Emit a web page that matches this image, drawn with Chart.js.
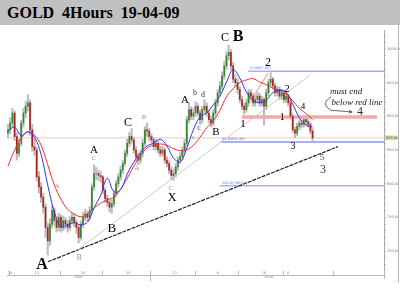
<!DOCTYPE html>
<html lang="en">
<head>
<meta charset="UTF-8">
<title>GOLD 4Hours 19-04-09</title>
<script src="https://cdn.jsdelivr.net/npm/chart.js"></script>
<style>
    body { margin: 0; background: #fff; }
    #title {
        width: 400px; height: 25px; background: #c0c0c0; box-sizing: border-box;
        padding-left: 7px; font: bold 16px "Liberation Serif", serif; line-height: 25px;
        white-space: pre; color: #000;
    }
    #wrap { width: 400px; height: 275px; }
</style>
</head>
<body>
<div id="title">GOLD  4Hours  19-04-09</div>
<div id="wrap"><canvas id="goldChart" width="400" height="275"></canvas></div>

<script>
// daily bars, Oct 2008 - 17 Apr 2009 (bar index = x)
const opens = [875,880,890,905,870,845,860,890,905,915, 920,880,855,850,810,795,780,765,735,715,
    740,760,745,735,750,735,745,740,735,745, 750,742,735,720,740,750,755,750,760,795,
    815,815,812,810,790,778,772,765,770,785, 800,810,820,830,845,860,870,865,850,840,
    835,845,860,880,878,870,865,855,860,850, 845,850,835,830,820,812,815,825,835,840,
    850,860,895,910,900,905,915,905,895,910, 915,905,895,890,905,920,935,945,960,975,
    990,995,975,955,950,940,925,915,910,920, 935,930,920,925,930,920,925,915,935,950,
    955,945,935,940,930,935,925,930,920,900, 880,875,885,890,888,895,892,888,878];
const highs = [888,898,912,908,876,866,894,912,922,932, 924,888,866,854,818,802,786,770,742,748,
    768,764,752,756,754,752,750,746,751,756, 754,746,739,745,757,762,759,766,800,828,
    824,820,818,812,794,783,776,776,790,805, 815,826,835,850,866,876,882,868,855,845,
    850,866,885,890,882,874,868,866,864,855, 856,853,840,834,825,822,830,840,846,855,
    866,900,920,914,912,922,919,910,915,925, 920,909,900,910,925,940,952,966,982,996,
    1006,999,980,962,956,944,930,920,926,940, 940,934,931,936,934,930,928,940,955,965,
    958,949,945,944,940,938,935,933,924,904, 884,890,895,894,900,898,896,891,882];
const lows = [868,874,884,864,835,840,856,884,898,908, 872,848,842,804,786,772,756,720,694,708,
    734,738,728,730,728,730,733,728,731,740, 736,726,712,716,735,745,744,746,756,790,
    806,805,802,785,772,766,758,756,766,780, 795,805,815,826,840,855,860,845,834,828,
    830,840,856,870,864,860,850,850,845,840, 841,830,825,815,806,805,810,820,830,835,
    845,856,890,895,895,900,900,888,890,905, 900,890,884,886,900,915,930,940,955,970,
    984,968,950,944,934,920,910,903,906,915, 925,915,915,920,915,915,887,910,930,945,
    940,930,930,925,925,920,920,915,896,876, 868,871,880,883,884,887,884,874,864];
const closes = [880,890,905,870,845,860,890,905,915,920, 880,855,850,810,795,780,765,735,715,740,
    760,745,735,750,735,745,740,735,745,750, 742,735,720,740,750,755,750,760,795,815,
    815,812,810,790,778,772,765,770,785,800, 810,820,830,845,860,870,865,850,840,835,
    845,860,880,878,870,865,855,860,850,845, 850,835,830,820,812,815,825,835,840,850,
    860,895,910,900,905,915,905,895,910,915, 905,895,890,905,920,935,945,960,975,990,
    995,975,955,950,940,925,915,910,920,935, 930,920,925,930,920,925,915,935,950,955,
    945,935,940,930,935,925,930,920,900,880, 875,885,890,888,895,892,888,878,868];

// moving averages, one reading every 3 bars
const maBars = [0,3,6,9,12,15,18,21,24,27,30,33,36,39,42,45,48,51,54,57,60,63,66,69,72,75,78,81,84,87,90,93,96,99,102,105,108,111,114,117,120,123,126,129,132,135,138];
const maBlue = [878,884,871,877,869,843,798,758,736,739,742,739,743,764,783,808,788,791,814,832,846,856,860,866,856,838,832,853,880,899,905,917,930,951,969,957,936,924,920,924,935,939,936,918,898,887,884];
const maRed = [826,850,868,877,872,857,828,798,777,762,755,751,755,764,771,776,780,792,808,826,841,853,857,859,857,852,849,850,857,869,883,893,909,929,941,950,954,956,951,947,942,939,933,923,912,904,895];

// horizontal levels [price, from bar]
const lastPrice = 868;
const redLevel = [899, 106, 167.2];
const fibLevels = [[967, 108.8], [862, 96.1], [797, 96.1]];
const fibTexts = ['0.0(967.60)', '61.8(861.90)', '100.0(796.60)'];
// trend lines [bar, price]
const blackTrend = [[18.1, 684], [149.5, 855]];
const greyTrend = [[31.7, 702], [136.8, 961]];
const waveLine = [[106.5, 905], [117.8, 964]];

// axis labels
const yTickValues = [700, 750, 800, 850, 900, 950, 1000];
const monthBars = [0.45, 23.6, 42.6, 64.3, 84.7, 104.2, 124.6, 147.3];
const dayLabels = ['29', '13', '10', '15', '12', '9', '16', '6'];
const dayBars = [1, 13, 34, 54.5, 75.5, 95, 116, 127];
const yearLabels = ['2008', '2009'];
const yearBars = [31.7, 118];

const xMin = -0.45, xMax = 170.35;
const N = closes.length;

const wicks = [], bodies = [], bodyColors = [];
for (let i = 0; i < N; i++) {
    wicks.push({ x: i, y: [lows[i], highs[i]] });
    bodies.push({ x: i, y: [opens[i], closes[i]] });
    bodyColors.push(closes[i] >= opens[i] ? '#2f8a2f' : '#b02020');
}

function pts(list) {
    return list.map(p => ({ x: p[0], y: p[1] }));
}
function hLine(price, from, to) {
    return [{ x: from, y: price }, { x: to || xMax, y: price }];
}
function lineSet(data, color, width, order, dash) {
    return {
        type: 'line', data: data, borderColor: color, borderWidth: width,
        pointRadius: 0, tension: 0, order: order, borderDash: dash || [],
        borderCapStyle: 'butt'
    };
}

const notes = [
    ['A', 15.4, 679, 'bold 16px', '#000'],
    ['B', 32.2, 690, '8px', '#999'],
    ['B', 47.1, 734, '13px', '#000'],
    ['A', 39.0, 850, '11px', '#000'],
    ['C', 39.0, 838, '7px', '#999'],
    ['A', 22.2, 797, '7px', '#999'],
    ['C', 54.4, 890, '12px', '#000'],
    ['A', 58.4, 823, '7px', '#999'],
    ['B', 61.6, 899, '7px', '#999'],
    ['C', 73.9, 794, '7px', '#999'],
    ['X', 74.3, 779, '12px', '#000'],
    ['A', 80.2, 924, '11px', '#000'],
    ['b', 84.7, 935, '8px', '#333'],
    ['d', 88.4, 932, '8px', '#333'],
    ['c', 86.5, 883, '8px', '#333'],
    ['a', 83.8, 869, '7px', '#999'],
    ['B', 94.2, 877, '11px', '#000'],
    ['C', 98.3, 1016, '12px', '#000'],
    ['B', 104.2, 1018, 'bold 16px', '#000'],
    ['1', 106.5, 889, '11px', '#000'],
    ['2', 117.8, 979, '12px', '#000'],
    ['1', 124.2, 899, '10px', '#000'],
    ['2', 126.4, 941, '11px', '#000'],
    ['4', 133.7, 915, '9px', '#000'],
    ['3', 129.1, 855, '10px', '#000'],
    ['must end', 153.2, 936, 'italic 9px', '#222'],
    ['below red line', 158.1, 920, 'italic 9px', '#222'],
    ['4', 159.5, 906, '12px', '#333'],
    ['5', 142.3, 838, '9px', '#333'],
    ['3', 142.7, 820, '12px', '#333']
];

const decor = {
    id: 'decor',
    afterDatasetsDraw(chart) {
        const ctx = chart.ctx, x = chart.scales.x, y = chart.scales.y, a = chart.chartArea;
        const px = v => x.getPixelForValue(v), py = v => y.getPixelForValue(v);
        ctx.save();
        ctx.textAlign = 'center';
        ctx.textBaseline = 'middle';
        notes.forEach(n => {
            ctx.font = n[3] + ' "Liberation Serif", serif';
            ctx.fillStyle = n[4];
            ctx.fillText(n[0], px(n[1]), py(n[2]));
        });
        // tiny level captions
        ctx.font = '3.5px "DejaVu Sans"';
        ctx.fillStyle = '#7070e0';
        ctx.textAlign = 'left';
        fibLevels.forEach((l, i) => ctx.fillText(fibTexts[i], px(l[1]) + 2, py(l[0]) - 3));
        // curved arrow to "4"
        ctx.strokeStyle = '#444';
        ctx.lineWidth = 0.8;
        ctx.beginPath();
        ctx.moveTo(px(146.4), py(929));
        ctx.quadraticCurveTo(px(141), py(918), px(146.4), py(909));
        ctx.lineTo(px(155.9), py(906.5));
        ctx.stroke();
        ctx.beginPath();
        ctx.moveTo(px(154.5), py(909));
        ctx.lineTo(px(155.9), py(906.5));
        ctx.lineTo(px(154.3), py(904.5));
        ctx.stroke();
        // bottom axis box
        ctx.strokeStyle = '#b8b8b8';
        ctx.lineWidth = 1;
        ctx.beginPath();
        ctx.moveTo(a.left, a.bottom + 4.5); ctx.lineTo(a.right, a.bottom + 4.5);
        ctx.moveTo(a.right + 0.5, a.bottom); ctx.lineTo(a.right + 0.5, a.bottom + 8);
        ctx.moveTo(398.5, 0); ctx.lineTo(398.5, a.bottom + 12);
        monthBars.forEach((m, i) => {
            const xx = Math.round(px(m)) + 0.5;
            ctx.moveTo(xx, a.bottom); ctx.lineTo(xx, a.bottom + (i === 3 ? 10 : 4.5));
        });
        ctx.stroke();
        ctx.font = '3.5px "DejaVu Sans"';
        ctx.fillStyle = '#888';
        ctx.textAlign = 'center';
        dayLabels.forEach((d, i) => ctx.fillText(d, px(dayBars[i]), a.bottom + 2.2));
        yearLabels.forEach((d, i) => ctx.fillText(d, px(yearBars[i]), a.bottom + 6.5));
        // last price box
        const ly = py(lastPrice);
        ctx.fillStyle = '#dcdcb4';
        ctx.fillRect(a.right + 1, ly - 2.5, 12, 5);
        ctx.fillStyle = '#555';
        ctx.textAlign = 'left';
        ctx.fillText(lastPrice.toFixed(2), a.right + 2, ly);
        ctx.restore();
    }
};

new Chart(document.getElementById('goldChart'), {
    type: 'bar',
    data: {
        datasets: [
            lineSet(hLine(lastPrice, xMin), '#f8c4c4', 1, 9),
            lineSet(hLine(redLevel[0], redLevel[1], redLevel[2]), '#f6a8a8', 3.5, 8),
            lineSet(hLine(fibLevels[0][0], fibLevels[0][1]), '#a8b0f4', 1.5, 8),
            lineSet(hLine(fibLevels[1][0], fibLevels[1][1]), '#a8b0f4', 2, 8),
            lineSet(hLine(fibLevels[2][0], fibLevels[2][1]), '#a8b0f4', 1.5, 8),
            lineSet(pts(greyTrend), '#cccccc', 1, 7),
            lineSet(pts(blackTrend), '#222222', 1.2, 7, [4, 1]),
            lineSet(pts(waveLine), '#f07070', 0.8, 7),
            {
                type: 'bar', data: wicks, backgroundColor: '#bdbdbd', barThickness: 1.5,
                grouped: false, borderWidth: 0, order: 5
            },
            {
                type: 'bar', data: bodies, backgroundColor: bodyColors, barThickness: 1,
                grouped: false, borderWidth: 0, order: 4
            },
            Object.assign(lineSet(maBars.map((b, i) => ({ x: b, y: maRed[i] })), '#f03030', 1, 2), { tension: 0.4 }),
            Object.assign(lineSet(maBars.map((b, i) => ({ x: b, y: maBlue[i] })), '#3434f0', 1, 1), { tension: 0.4 })
        ]
    },
    options: {
        responsive: false,
        animation: false,
        layout: { padding: { top: 5, left: 7, right: 0, bottom: 29 } },
        plugins: { legend: { display: false }, tooltip: { enabled: false } },
        scales: {
            x: { type: 'linear', min: xMin, max: xMax, offset: false, display: false },
            y: {
                position: 'right', min: 670.3, max: 1028.2,
                afterFit: s => { s.width = 16; },
                afterBuildTicks: s => {
                    const t = [];
                    for (let v = 680; v <= 1020; v += 10) t.push({ value: v });
                    s.ticks = t;
                },
                border: { color: '#aaaaaa' },
                grid: { drawOnChartArea: false, tickLength: 2, color: '#bbbbbb' },
                ticks: {
                    padding: 1, color: '#777', font: { size: 3.5, family: 'DejaVu Sans' },
                    autoSkip: false, maxRotation: 0,
                    callback: v => yTickValues.includes(v) ? v.toFixed(2) : ''
                }
            }
        }
    },
    plugins: [decor]
});
</script>
</body>
</html>
